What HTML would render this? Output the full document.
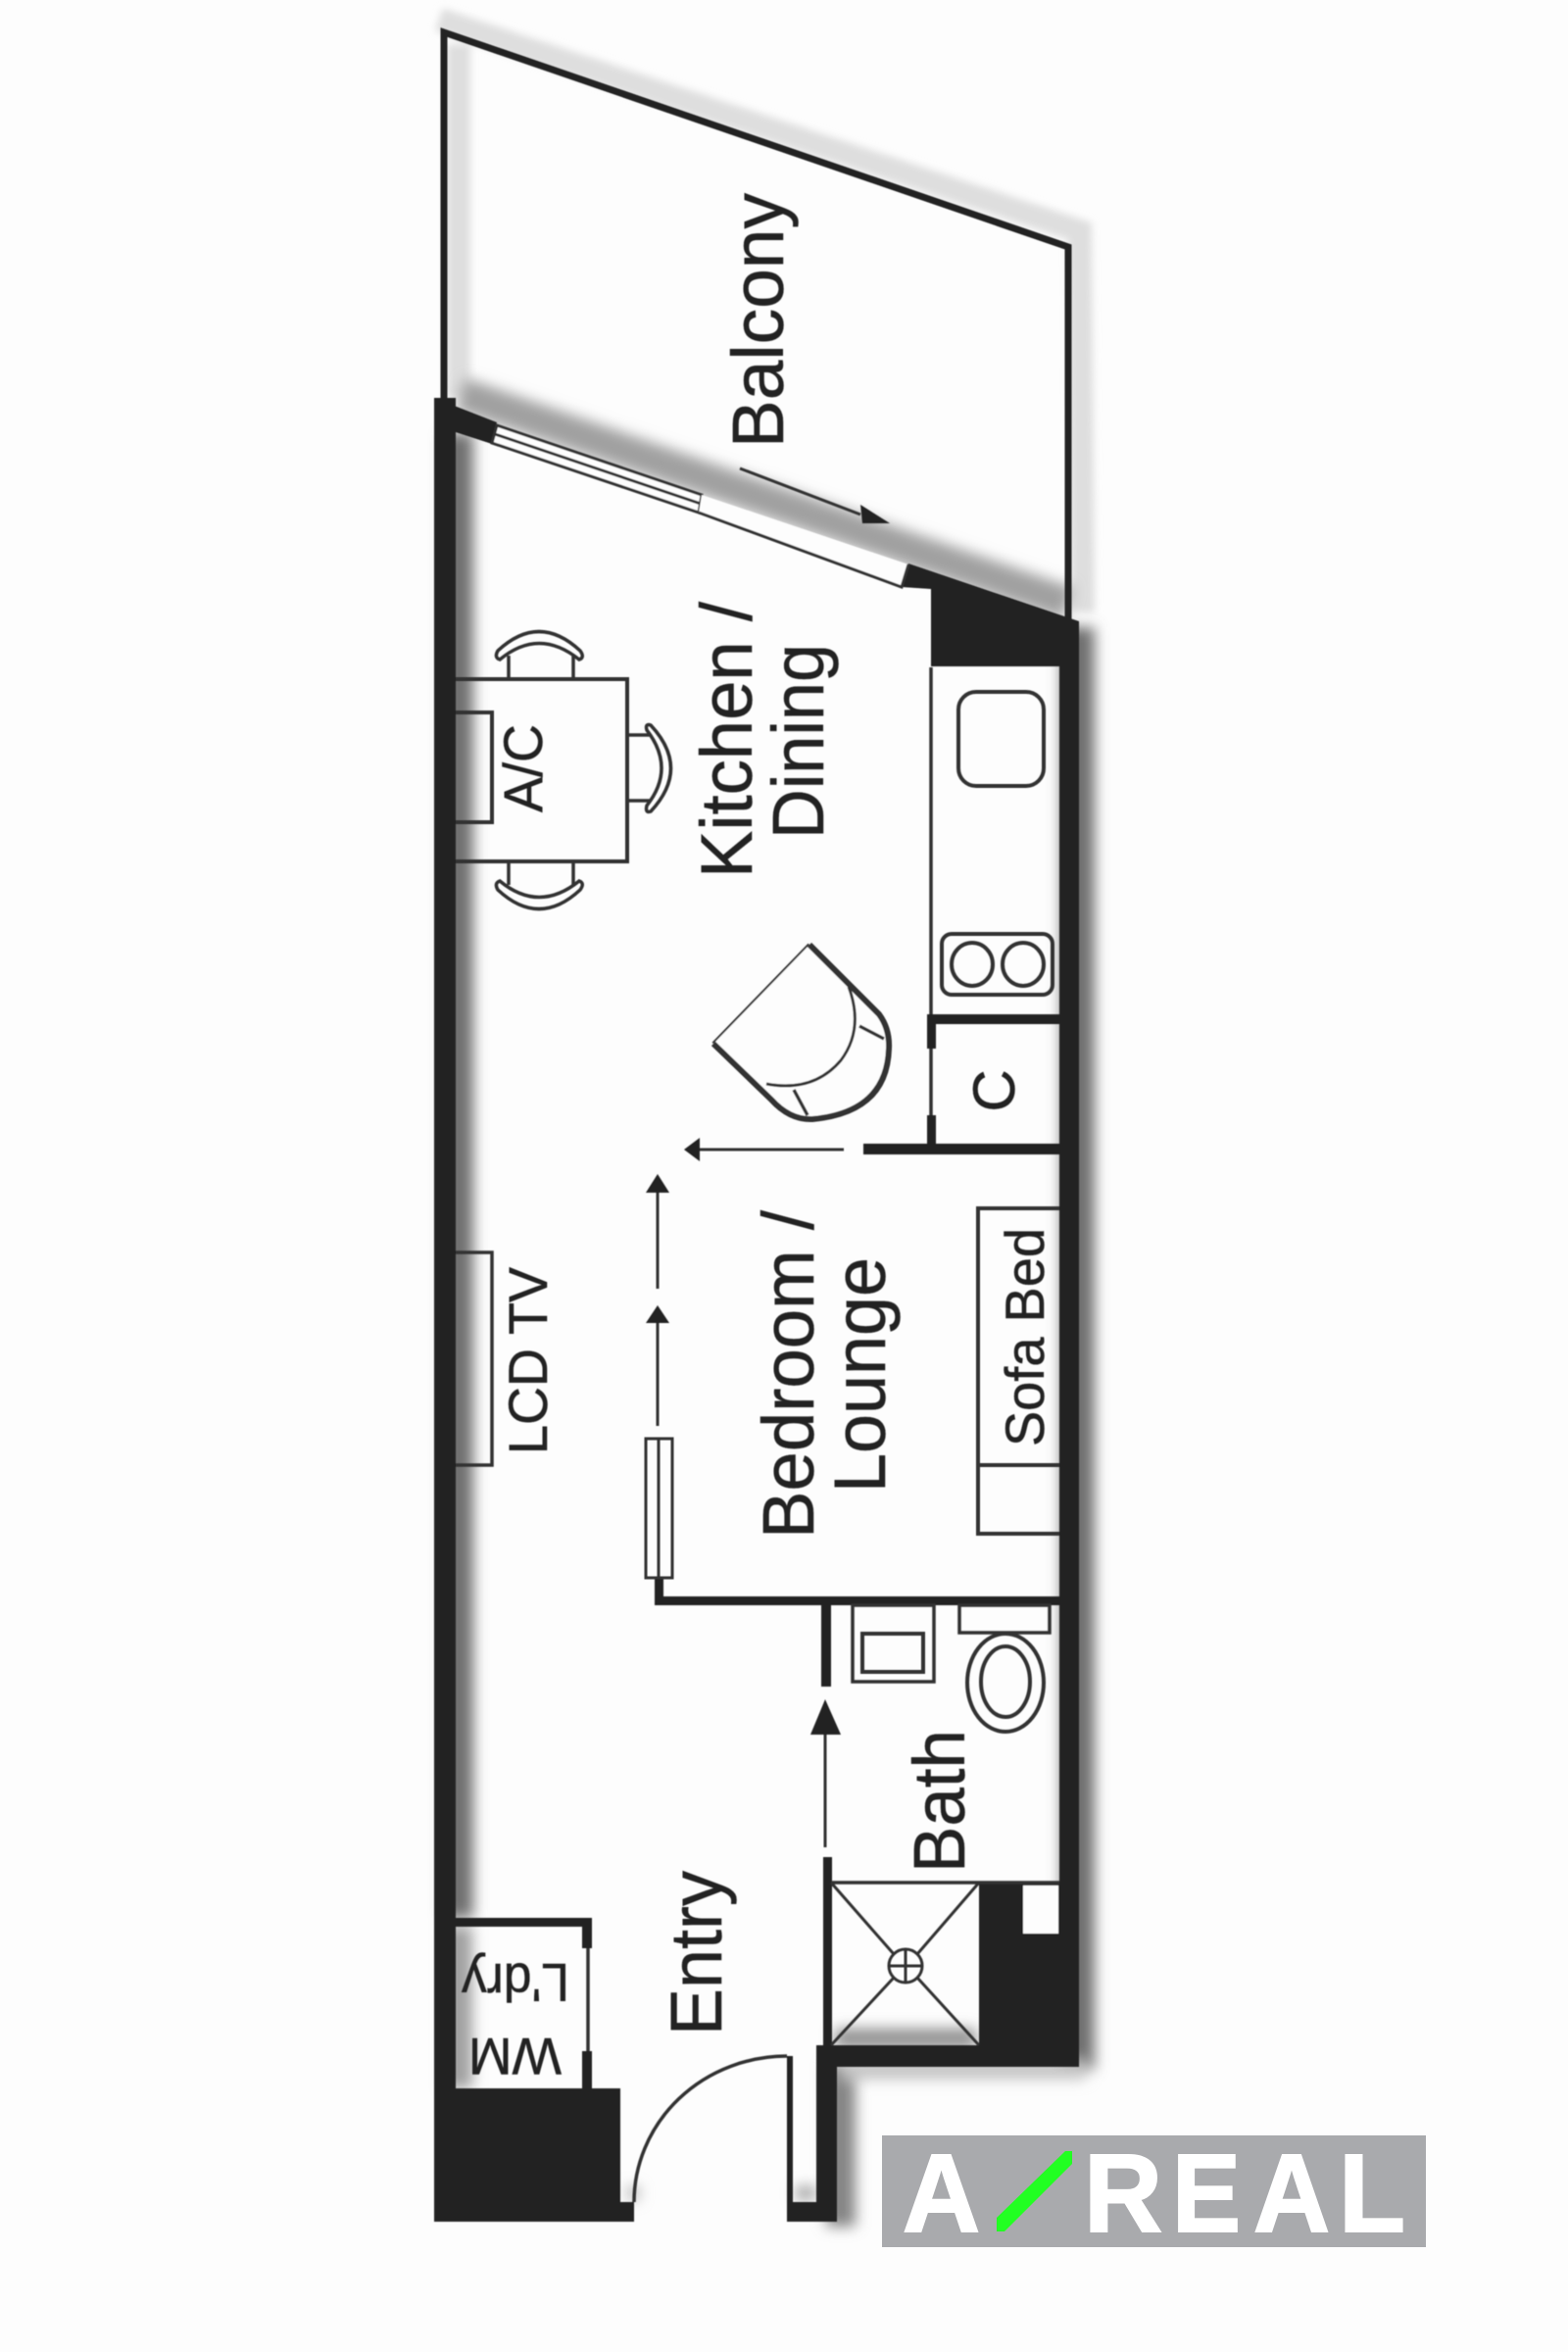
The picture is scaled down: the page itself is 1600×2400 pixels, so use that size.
<!DOCTYPE html>
<html>
<head>
<meta charset="utf-8">
<style>
html,body{margin:0;padding:0;background:#fdfdfd;width:1600px;height:2400px;overflow:hidden}
svg{display:block}
text{font-family:"Liberation Sans",sans-serif;fill:#222;stroke:#222;stroke-width:.5}
.l{fill:none;stroke:#333;stroke-width:4}
.t{fill:none;stroke:#333;stroke-width:3.5}
.logo{font-weight:bold;fill:#fff;stroke:#fff;stroke-width:2;font-size:113px}
</style>
</head>
<body>
<svg width="1600" height="2400" viewBox="0 0 1600 2400" xmlns="http://www.w3.org/2000/svg">
<defs>
<filter id="b1" x="-20%" y="-20%" width="140%" height="140%"><feGaussianBlur stdDeviation="4"/></filter>
<filter id="b2" x="-20%" y="-20%" width="140%" height="140%"><feGaussianBlur stdDeviation="7"/></filter>
<filter id="s" x="-5%" y="-5%" width="110%" height="110%"><feGaussianBlur stdDeviation="0.6"/></filter>
</defs>
<rect width="1600" height="2400" fill="#fdfdfd"/>

<!-- soft shadows -->
<g filter="url(#b1)" fill="none" stroke-linecap="butt">
<path d="M448 20 L1102 236 L1105 625" stroke="#dedede" stroke-width="24"/>
<path d="M468 45 L468 405" stroke="#dedede" stroke-width="24"/>
</g>
<g filter="url(#b2)" fill="none">
<path d="M468 442 L468 1957" stroke="#707070" stroke-width="30"/>
<path d="M468 1966 L468 2131" stroke="#a0a0a0" stroke-width="28"/>
<path d="M1100 640 L1100 2112" stroke="#707070" stroke-width="34"/>
<path d="M470 402 L1090 616" stroke="#a0a0a0" stroke-width="34"/>
<path d="M858 2105 L858 2272" stroke="#858585" stroke-width="30"/>
<path d="M858 2112 L1108 2112" stroke="#c4c4c4" stroke-width="20"/>
<path d="M852 2080 L996 2080" stroke="#909090" stroke-width="20"/>
<path d="M812 2238 L832 2238" stroke="#a0a0a0" stroke-width="14"/>
<path d="M640 2238 L652 2238" stroke="#b0b0b0" stroke-width="14"/>
</g>

<g filter="url(#s)">
<!-- balcony lines -->
<path d="M453 408 L453 33 L1090 252 L1090 632" fill="none" stroke="#222" stroke-width="7"/>

<!-- walls -->
<g fill="#222">
<rect x="443" y="406" width="22" height="1861"/>
<polygon points="443,406 507,431 502,453 465,441 443,441"/>
<polygon points="927,575 1101,634 1101,680 950,680 950,601 920,599"/>
<rect x="1081" y="634" width="20" height="1475"/>
<rect x="833" y="2087" width="268" height="22"/>
<rect x="999" y="1921" width="102" height="188"/>
<rect x="833" y="2087" width="21" height="180"/>
<rect x="803" y="2247" width="51" height="20"/>
<rect x="803" y="2098" width="6" height="149"/>
<rect x="443" y="2131" width="190" height="136"/>
<rect x="633" y="2247" width="14" height="20"/>
<rect x="465" y="1957" width="139" height="9"/>
<rect x="594" y="1957" width="10" height="31"/>
<rect x="594" y="2093" width="10" height="38"/>
<rect x="946" y="1035" width="135" height="10"/>
<rect x="946" y="1035" width="9" height="35"/>
<rect x="946" y="1138" width="9" height="29"/>
<rect x="881" y="1167" width="200" height="11"/>
<rect x="668" y="1610" width="9" height="28"/>
<rect x="668" y="1629" width="413" height="9"/>
<rect x="838" y="1638" width="10" height="83"/>
<rect x="840" y="1895" width="9" height="192"/>
</g>
<rect x="1044" y="1924" width="36" height="49" fill="#fdfdfd"/>

<!-- thin structural lines -->
<path class="t" d="M600 1988 V2093"/>
<path class="t" d="M950 1070 V1138"/>
<path class="t" d="M950 681 V1035"/>
<path class="t" d="M848 1921 H1081"/>
<path class="t" d="M803 2098 A156 149 0 0 0 647 2247"/>

<!-- sliding door -->
<polygon points="507,434 716,505 713,523 502,452" fill="#fdfdfd" stroke="#333" stroke-width="3"/>
<path class="t" d="M505 443 L715 514" style="stroke-width:3"/>
<polygon points="716,505 927,576 920,599 713,523" fill="#fdfdfd"/>
<path d="M713 523 L920 599 L927 576" fill="none" stroke="#333" stroke-width="3"/>

<!-- dining table -->
<path class="l" d="M465 693 H640 V879 H465"/>
<path class="l" d="M465 727 H502 V839 H465"/>
<!-- chairs -->
<path class="t" d="M519 693 V669 M585 693 V669"/>
<path class="t" d="M510 673 Q504 671 508 664 Q550 625 592 664 Q597 671 591 673 Q550 640 510 673Z"/>
<path class="t" d="M519 879 V903 M585 879 V903"/>
<path class="t" d="M510 899 Q504 901 508 908 Q550 947 592 908 Q597 901 591 899 Q550 932 510 899Z"/>
<path class="t" d="M640 750 H664 M640 817 H664"/>
<path class="t" d="M660 745 Q658 738 664 740 Q705 784 664 828 Q658 830 660 822 Q690 784 660 745Z"/>

<!-- armchair -->
<path d="M826 964 L728 1065" fill="none" stroke="#333" stroke-width="4"/>
<path d="M728 1065 L787 1122 Q806 1143 829 1142 Q905 1135 907 1070 Q908 1050 897 1035 L826 964" fill="#fdfdfd" stroke="#333" stroke-width="6" stroke-linejoin="round"/>
<path d="M866 1007 Q882 1050 858 1082 Q830 1115 782 1106" fill="none" stroke="#333" stroke-width="3"/>
<path class="t" d="M877 1047 L902 1060 M810 1112 L824 1138"/>

<!-- kitchen -->
<rect x="978" y="706" width="87" height="96" rx="18" class="l"/>
<rect x="961" y="953" width="113" height="62" rx="10" class="l"/>
<ellipse cx="992" cy="984" rx="21" ry="22" class="l"/>
<ellipse cx="1044" cy="984" rx="21" ry="22" class="l"/>

<!-- lcd, sofa -->
<path class="t" d="M465 1278 H502 V1495 H465"/>
<path class="l" d="M1081 1233 H998 V1565 H1081 M998 1495 H1081"/>

<!-- arrows -->
<g fill="#222">
<path d="M714 1173 H861" stroke="#333" stroke-width="3"/>
<polygon points="698,1173 714,1161 714,1185"/>
<path d="M671 1217 V1315" stroke="#333" stroke-width="3"/>
<polygon points="671,1198 659,1217 683,1217"/>
<path d="M671 1350 V1455" stroke="#333" stroke-width="3"/>
<polygon points="671,1332 659,1350 683,1350"/>
<path d="M842 1770 V1885" stroke="#333" stroke-width="3"/>
<polygon points="842,1734 827,1770 858,1770"/>
<path d="M755 478 L878 525" stroke="#333" stroke-width="3"/>
<polygon points="908,534 878,515 880,534"/>
</g>
<rect x="659" y="1468" width="27" height="142" class="t" style="stroke-width:3"/>
<path class="t" d="M672 1468 V1610" style="stroke-width:3"/>

<!-- bath -->
<rect x="870" y="1638" width="83" height="78" class="t"/>
<rect x="880" y="1667" width="62" height="39" class="l"/>
<rect x="979" y="1638" width="92" height="28" class="t"/>
<ellipse cx="1026" cy="1717" rx="39" ry="50" class="l" fill="#fdfdfd"/>
<ellipse cx="1026" cy="1716" rx="25" ry="36" class="l"/>
<path class="t" d="M848 1921 L912 1994 M999 1921 L936 1994 M848 2087 L912 2018 M999 2087 L936 2018" style="stroke-width:3"/>
<circle cx="924" cy="2006" r="17" class="t" style="stroke-width:3"/>
<path class="t" d="M907 2006 H941 M924 1989 V2023" style="stroke-width:3"/>

<!-- labels -->
<text transform="translate(799,457) rotate(-90)" font-size="74" textLength="260" lengthAdjust="spacingAndGlyphs">Balcony</text>
<text transform="translate(767,896) rotate(-90)" font-size="74" textLength="282" lengthAdjust="spacingAndGlyphs">Kitchen /</text>
<text transform="translate(840,856) rotate(-90)" font-size="74" textLength="199" lengthAdjust="spacingAndGlyphs">Dining</text>
<text transform="translate(553,829) rotate(-90)" font-size="56" textLength="90" lengthAdjust="spacingAndGlyphs">A/C</text>
<text transform="translate(1035,1113) rotate(-90)" font-size="60" text-anchor="middle">C</text>
<text transform="translate(558,1484) rotate(-90)" font-size="56" textLength="191" lengthAdjust="spacingAndGlyphs">LCD TV</text>
<text transform="translate(830,1570) rotate(-90)" font-size="74" textLength="335" lengthAdjust="spacingAndGlyphs">Bedroom /</text>
<text transform="translate(903,1523) rotate(-90)" font-size="74" textLength="240" lengthAdjust="spacingAndGlyphs">Lounge</text>
<text transform="translate(1065,1476) rotate(-90)" font-size="56" textLength="223" lengthAdjust="spacingAndGlyphs">Sofa Bed</text>
<text transform="translate(984,1911) rotate(-90)" font-size="74" textLength="146" lengthAdjust="spacingAndGlyphs">Bath</text>
<text transform="translate(736,2077) rotate(-90)" font-size="74" textLength="168" lengthAdjust="spacingAndGlyphs">Entry</text>
<text transform="translate(581,2004) rotate(180)" font-size="55" textLength="110" lengthAdjust="spacingAndGlyphs">L'dry</text>
<text transform="translate(573,2080) rotate(180)" font-size="53" textLength="95" lengthAdjust="spacingAndGlyphs">WM</text>
</g>

<!-- logo -->
<rect x="900" y="2179" width="555" height="114" fill="#a9aaad"/>
<text class="logo" x="921" y="2277" textLength="79" lengthAdjust="spacingAndGlyphs">A</text>
<polygon points="1017,2263 1087,2195 1094,2195 1094,2208 1025,2277 1017,2277" fill="#22ff22"/>
<text class="logo" x="1106" y="2277" textLength="80" lengthAdjust="spacingAndGlyphs">R</text>
<text class="logo" x="1196" y="2277" textLength="70" lengthAdjust="spacingAndGlyphs">E</text>
<text class="logo" x="1279" y="2277" textLength="78" lengthAdjust="spacingAndGlyphs">A</text>
<text class="logo" x="1366" y="2277" textLength="68" lengthAdjust="spacingAndGlyphs">L</text>
</svg>
</body>
</html>
